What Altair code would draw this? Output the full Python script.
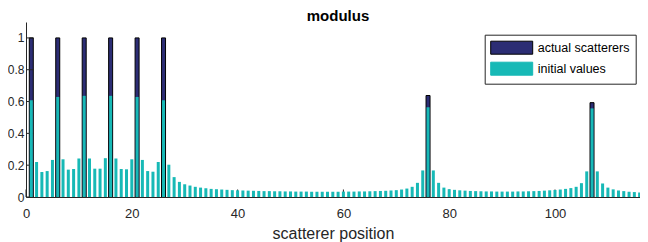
import altair as alt
import pandas as pd

# ---------------- data ----------------
positions = list(range(1, 118))
initial_values = [
    0.608, 0.220, 0.157, 0.163, 0.233, 0.629, 0.237, 0.172, 0.176, 0.242,   # 1-10
    0.636, 0.242, 0.178, 0.178, 0.244, 0.636, 0.242, 0.176, 0.174, 0.237,   # 11-20
    0.629, 0.233, 0.163, 0.159, 0.220, 0.608, 0.203, 0.125, 0.095, 0.080,   # 21-30
    0.072, 0.064, 0.059, 0.055, 0.051, 0.049, 0.047, 0.045, 0.043, 0.042,   # 31-40
    0.041, 0.040, 0.039, 0.038, 0.037, 0.037, 0.036, 0.036, 0.035, 0.035,   # 41-50
    0.034, 0.034, 0.034, 0.033, 0.033, 0.033, 0.033, 0.033, 0.033, 0.034,   # 51-60
    0.034, 0.034, 0.035, 0.035, 0.036, 0.037, 0.038, 0.039, 0.041, 0.043,   # 61-70
    0.047, 0.053, 0.064, 0.089, 0.167, 0.564, 0.167, 0.089, 0.059, 0.049,   # 71-80
    0.045, 0.042, 0.040, 0.038, 0.037, 0.036, 0.035, 0.035, 0.034, 0.034,   # 81-90
    0.034, 0.034, 0.035, 0.035, 0.036, 0.037, 0.038, 0.040, 0.042, 0.044,   # 91-100
    0.047, 0.051, 0.056, 0.064, 0.087, 0.161, 0.557, 0.161, 0.085, 0.059,   # 101-110
    0.048, 0.041, 0.037, 0.033, 0.031, 0.028, 0.026,                        # 111-117
]
actual_positions = [1, 6, 11, 16, 21, 26, 76, 107]
actual_values = [1.0, 1.0, 1.0, 1.0, 1.0, 1.0, 0.638, 0.593]
series_names = ["actual scatterers", "initial values"]
x_ticks = [0, 20, 40, 60, 80, 100]
y_ticks = [0, 0.2, 0.4, 0.6, 0.8, 1.0]

# ---------------- style ----------------
DARK = "#2C2D74"
TEAL = "#17B9B6"
AX = "#262626"
FONT = "Liberation Sans"
W, H = 614, 175

df_init = pd.DataFrame({"pos": positions, "value": initial_values, "series": series_names[1]})
df_act = pd.DataFrame({"pos": actual_positions, "value": actual_values, "series": series_names[0]})
df_xt = pd.DataFrame({"t": x_ticks})
df_yt = pd.DataFrame({"t": y_ticks})

xscale = alt.Scale(domain=[0, 116.07], nice=False, zero=False, padding=0)
yscale = alt.Scale(domain=[0, 1.1], nice=False, padding=0)

xaxis = alt.Axis(values=x_ticks, format="d", ticks=False, tickSize=0, labelPadding=10,
                 labelFontSize=13, labelFont=FONT, labelColor=AX, labelFlush=False,
                 domainColor=AX, domainWidth=1, grid=False,
                 titleFontSize=16, titleFont=FONT, titleColor=AX, titleFontWeight="normal",
                 titlePadding=5)
yaxis = alt.Axis(values=y_ticks, format="~g", ticks=False, tickSize=0, labelPadding=2,
                 labelFontSize=12, labelFont=FONT, labelColor=AX,
                 domainColor=AX, domainWidth=1, grid=False)

legend = alt.Legend(title=None, orient="none", legendX=458.7, legendY=12.7,
                    fillColor="white", strokeColor=AX, padding=6,
                    symbolType="M-3.23,-1H3.23V1H-3.23Z", symbolSize=169,
                    symbolOffset=14, labelOffset=19, rowPadding=3,
                    labelFontSize=12.5, labelFont=FONT, labelColor="black",
                    symbolStrokeWidth=1, symbolOpacity=1, labelLimit=200)

color = alt.Color("series:N", scale=alt.Scale(domain=series_names, range=[DARK, TEAL]), legend=legend)
stroke = alt.Stroke("series:N", scale=alt.Scale(domain=series_names, range=["black", TEAL]), legend=legend)

X = alt.X("pos:Q", scale=xscale, axis=xaxis, title="scatterer position")
Y = alt.Y("value:Q", scale=yscale, axis=yaxis, title=None)

dark = alt.Chart(df_act).mark_bar(size=4, strokeWidth=1, clip=True).encode(
    x=X, y=Y, color=color, stroke=stroke,
)
teal = alt.Chart(df_init).mark_bar(size=3, strokeWidth=0, clip=True).encode(
    x=X, y=Y, color=color, stroke=stroke,
)
x_tick_marks = alt.Chart(df_xt).mark_rule(color=AX, strokeWidth=1).encode(
    x=alt.X("t:Q", scale=xscale, axis=xaxis, title="scatterer position"),
    y=alt.value(H), y2=alt.value(H - 7.5),
)
y_tick_marks = alt.Chart(df_yt).mark_rule(color=AX, strokeWidth=1).encode(
    y=alt.Y("t:Q", scale=yscale, axis=yaxis, title=None),
    x=alt.value(0), x2=alt.value(7.5),
)

chart = alt.layer(dark, x_tick_marks, y_tick_marks, teal).properties(
    width=W, height=H,
    autosize=alt.AutoSizeParams(type="none"),
    padding={"left": 18, "top": 14, "right": 0, "bottom": 45},
    title=alt.Title("modulus", fontSize=15, fontWeight="bold", font=FONT, color="black",
                    offset=0, dy=2, frame="group", anchor="middle", dx=5),
).configure_view(stroke=None)

chart.save("out.html", embed_options={"renderer": "svg", "actions": False})
